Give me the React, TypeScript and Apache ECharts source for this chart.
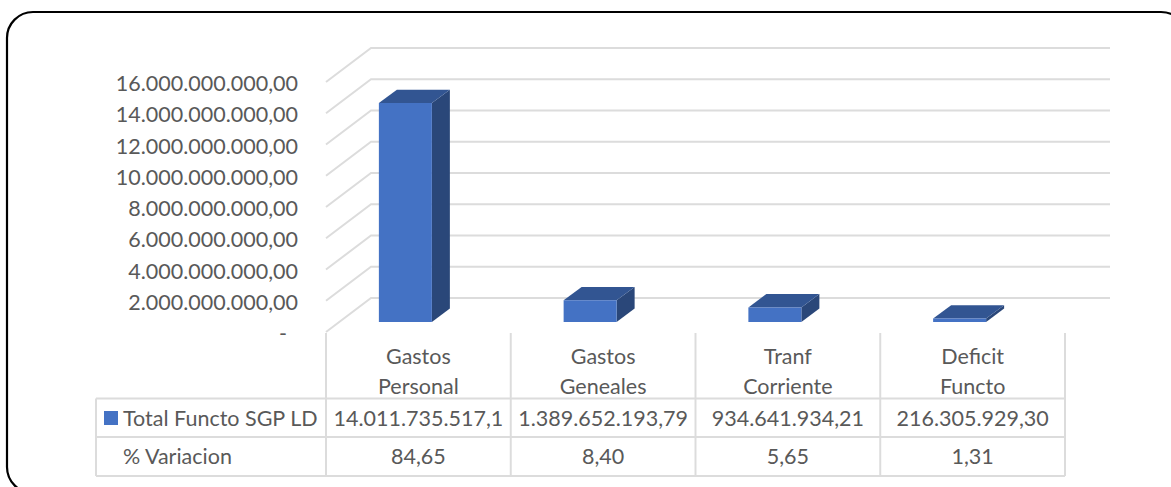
import React, { useEffect, useRef } from "react";
import * as echarts from "echarts";

const categories = ["Gastos\nPersonal", "Gastos\nGeneales", "Tranf\nCorriente", "Deficit\nFuncto"];
const totals = [14011735517.1, 1389652193.79, 934641934.21, 216305929.3];
const totalLabels = ["14.011.735.517,1", "1.389.652.193,79", "934.641.934,21", "216.305.929,30"];
const variationLabels = ["84,65", "8,40", "5,65", "1,31"];
const yTicks = [0, 2e9, 4e9, 6e9, 8e9, 10e9, 12e9, 14e9, 16e9];
const seriesName = "Total Functo SGP LD";
const rowName = "% Variacion";

const FONT = "Lato, Carlito, 'Open Sans', sans-serif";
const FONT_SIZE = 21.5;
const TEXT = "#595959";
const LINE = "#DCDCDC";
const LINE_W = 2;
const WALL_DX = 45;
const WALL_DY = 34;
const GRID = { left: 326, top: 82, width: 739, height: 250 };
const ROW_Y = [398.5, 437, 476];
const TABLE_LEFT = 96;

function fmtTick(v: number) {
  const s =
    v === 0
      ? "-\u00a0\u00a0"
      : v.toLocaleString("de-DE", { minimumFractionDigits: 2, maximumFractionDigits: 2 });
  return `{t|${s}}`;
}

const lineEl = (x1: number, y1: number, x2: number, y2: number) => ({
  type: "line",
  shape: { x1, y1, x2, y2 },
  style: { stroke: LINE, lineWidth: LINE_W },
});

export default function App() {
  const ref = useRef<HTMLDivElement>(null);
  useEffect(() => {
    document.body.style.margin = "0";
    const chart = echarts.init(ref.current!, undefined, { renderer: "svg" });
    chart.setOption({
      animation: false,
      backgroundColor: "#fff",
      grid: { ...GRID, containLabel: false },
      legend: {
        left: 104,
        top: 407,
        padding: 0,
        itemWidth: 14,
        itemHeight: 14,
        itemGap: 0,
        data: [{ name: seriesName, icon: "rect" }],
        selectedMode: false,
        textStyle: { color: TEXT, fontFamily: FONT, fontSize: FONT_SIZE },
      },
      xAxis: {
        type: "category",
        data: categories,
        axisLine: { show: false },
        axisTick: { show: false },
        splitLine: { show: false },
        axisLabel: {
          interval: 0,
          margin: 9,
          color: TEXT,
          fontFamily: FONT,
          fontSize: FONT_SIZE,
          lineHeight: 30,
        },
      },
      yAxis: {
        type: "value",
        min: 0,
        max: 16e9,
        interval: 2e9,
        axisLine: { show: false },
        axisTick: { show: false },
        splitLine: { show: false },
        axisLabel: {
          margin: 28,
          color: TEXT,
          fontFamily: FONT,
          fontSize: FONT_SIZE,
          formatter: fmtTick,
          rich: {
            t: {
              color: TEXT,
              fontFamily: FONT,
              fontSize: FONT_SIZE,
              padding: [2, 0, 0, 0],
            },
          },
        },
      },
      graphic: {
        elements: [
          {
            type: "rect",
            silent: true,
            z: 0,
            shape: { x: 7, y: 12, width: 1180, height: 481, r: 26 },
            style: { fill: "none", stroke: "#000", lineWidth: 2.2 },
          },
          ...ROW_Y.map((y) => ({ ...lineEl(TABLE_LEFT, y, GRID.left + GRID.width, y), silent: true })),
          { ...lineEl(TABLE_LEFT, ROW_Y[0], TABLE_LEFT, ROW_Y[2]), silent: true },
          {
            type: "text",
            silent: true,
            x: 123,
            y: (ROW_Y[1] + ROW_Y[2]) / 2 - 1,
            style: { text: rowName, fill: TEXT, fontFamily: FONT, fontSize: FONT_SIZE, verticalAlign: "middle" },
          },
        ],
      },
      series: [
        {
          type: "custom",
          silent: true,
          z: 1,
          data: yTicks.map((v) => [0, v]),
          renderItem: (params: any, api: any) => {
            const y = api.coord([0, api.value(1)])[1];
            const x = params.coordSys.x;
            return {
              type: "polyline",
              shape: {
                points: [
                  [x, y],
                  [x + WALL_DX, y - WALL_DY],
                  [x + params.coordSys.width + WALL_DX, y - WALL_DY],
                ],
              },
              style: { stroke: LINE, lineWidth: LINE_W, fill: "none" },
            };
          },
        },
        {
          type: "custom",
          name: seriesName,
          silent: true,
          z: 2,
          itemStyle: { color: "#4472C4" },
          data: totals.map((v, i) => [i, v]),
          renderItem: (_p: any, api: any) => {
            const c = api.coord([api.value(0), api.value(1)]);
            const b = api.coord([api.value(0), 0]);
            const l = c[0] - 39.5;
            const r = l + 53;
            const t = c[1] - 10;
            const bot = b[1] - 10;
            const dx = 18;
            const dy = 13.4;
            const poly = (points: number[][], fill: string) => ({ type: "polygon", shape: { points }, style: { fill } });
            return {
              type: "group",
              children: [
                poly([[r, t], [r + dx, t - dy], [r + dx, bot - dy], [r, bot]], "#2A4779"),
                poly([[l, t], [l + dx, t - dy], [r + dx, t - dy], [r, t]], "#325592"),
                poly([[l, t], [r, t], [r, bot], [l, bot]], "#4472C4"),
              ],
            };
          },
        },
        {
          type: "custom",
          silent: true,
          z: 3,
          data: categories.map((_, i) => [i, 0]),
          renderItem: (params: any, api: any) => {
            const i = api.value(0);
            const cx = api.coord([i, 0])[0];
            const step = params.coordSys.width / categories.length;
            const cell = (text: string, y: number) => ({
              type: "text",
              style: { text, x: cx, y, align: "center", verticalAlign: "middle", fill: TEXT, fontFamily: FONT, fontSize: FONT_SIZE },
            });
            const top = params.coordSys.y + params.coordSys.height + 1;
            const children: any[] = [
              lineEl(cx + step / 2, top, cx + step / 2, ROW_Y[2]),
              cell(totalLabels[i], (ROW_Y[0] + ROW_Y[1]) / 2),
              cell(variationLabels[i], (ROW_Y[1] + ROW_Y[2]) / 2 - 1),
            ];
            if (i === 0) children.push(lineEl(cx - step / 2, top, cx - step / 2, ROW_Y[2]));
            return { type: "group", children };
          },
        },
      ],
    });
    return () => chart.dispose();
  }, []);
  return <div ref={ref} style={{ position: "fixed", left: 0, top: 0, width: 1171, height: 487 }} />;
}
